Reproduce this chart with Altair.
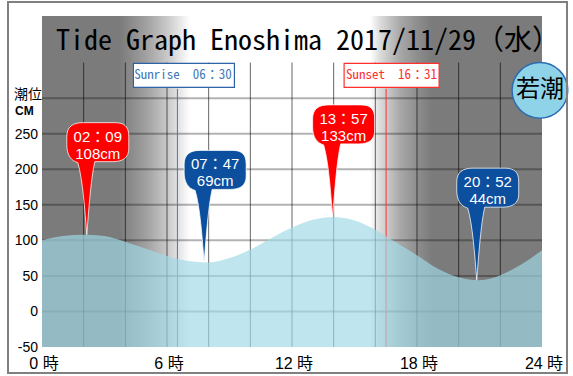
import altair as alt
import pandas as pd

# ---- data ----
hours = list(range(25))
tide_cm = [100, 106, 108, 106, 98, 88, 78, 71, 69, 75, 87, 103, 118, 129, 133, 128, 115, 97, 79, 60, 48, 44, 51, 66, 86]

ext_hours = [2.15, 7.783, 13.95, 20.867]
ext_cm = [108, 69, 133, 44]
ext_time = ["02：09", "07：47", "13：57", "20：52"]
ext_label = ["108cm", "69cm", "133cm", "44cm"]
ext_kind = ["high", "low", "high", "low"]

sun_names = ["Sunrise", "Sunset"]
sun_hours = [6.5, 16.517]
sun_text = ["Sunrise　06：30", "Sunset　16：31"]

grid_levels = [0, 50, 100, 150, 200, 250, 300]
grid_hours = [2, 4, 6, 8, 10, 12, 14, 16, 18, 20, 22]
y_ticks = [-50, 0, 50, 100, 150, 200, 250]
y_tick_text = ["-50", "0", "50", "100", "150", "200", "250"]
x_ticks = [0, 6, 12, 18, 24]
x_tick_text = ["0 時", "6 時", "12 時", "18 時", "24 時"]

tide_name = "若潮"
title_text = "Tide Graph Enoshima 2017/11/29（水）"
y_title = ["潮位", "CM"]

# ---- tables ----
tide_df = pd.DataFrame({"hour": hours, "cm": tide_cm})
ext_df = pd.DataFrame({"hour": ext_hours, "cm": ext_cm, "time": ext_time,
                       "label": ext_label, "kind": ext_kind})
sun_df = pd.DataFrame({"name": sun_names, "hour": sun_hours, "text": sun_text})
hgrid_df = pd.DataFrame({"lv": grid_levels})
vgrid_df = pd.DataFrame({"h": grid_hours})
ytick_df = pd.DataFrame({"v": y_ticks, "t": y_tick_text})
xtick_df = pd.DataFrame({"v": x_ticks, "t": x_tick_text})
one = pd.DataFrame({"a": [0]})

xs = alt.Scale(domain=[0, 24], nice=False, zero=False)
ys = alt.Scale(domain=[-50, 415.5], nice=False, zero=False)

MONO = "Noto Sans Mono CJK JP, DejaVu Sans Mono"
SANS = "Liberation Sans, Noto Sans CJK JP"
GRAY = "#7b7b7b"

grad = alt.Gradient(
    gradient="linear", x1=0, x2=1, y1=0, y2=0,
    stops=[
        alt.GradientStop(color=GRAY, offset=0),
        alt.GradientStop(color=GRAY, offset=0.156),
        alt.GradientStop(color="#a2a2a2", offset=0.21),
        alt.GradientStop(color="#c8c8c8", offset=0.25),
        alt.GradientStop(color="#e6e6e6", offset=0.275),
        alt.GradientStop(color="#ffffff", offset=0.296),
        alt.GradientStop(color="#ffffff", offset=0.656),
        alt.GradientStop(color="#dcdcdc", offset=0.676),
        alt.GradientStop(color="#a8a8a8", offset=0.716),
        alt.GradientStop(color="#8e8e8e", offset=0.75),
        alt.GradientStop(color=GRAY, offset=0.78),
        alt.GradientStop(color=GRAY, offset=1),
    ],
)

bg = alt.Chart(one).mark_rect(fill=grad).encode(
    x=alt.XDatum(0, scale=xs, axis=None), x2=alt.datum(24),
    y=alt.YDatum(-50, scale=ys, axis=None), y2=alt.datum(415.5),
)

hgrid = alt.Chart(hgrid_df).mark_rule(color="#000", opacity=0.3, strokeWidth=2).encode(
    y=alt.Y("lv:Q", scale=ys, axis=None),
    x=alt.XDatum(0, scale=xs, axis=None), x2=alt.datum(24),
)
vgrid = alt.Chart(vgrid_df).mark_rule(color="#000", opacity=0.6, strokeWidth=1).encode(
    x=alt.X("h:Q", scale=xs, axis=None),
    y=alt.YDatum(-50, scale=ys, axis=None), y2=alt.datum(350),
)

ylabels = alt.Chart(ytick_df).mark_text(font=SANS, fontSize=14, align="right",
                                        baseline="middle", color="#000", dy=1).encode(
    y=alt.Y("v:Q", scale=ys, axis=None), x=alt.value(-4), text="t:N",
)
xlabels = alt.Chart(xtick_df).mark_text(font=SANS, fontSize=16, align="center",
                                        baseline="middle", color="#000", dx=2).encode(
    x=alt.X("v:Q", scale=xs, axis=None), y=alt.value(348), text="t:N",
)
ytitle1 = alt.Chart(one).mark_text(text=y_title[0], font="Noto Sans CJK JP", fontSize=14,
                                   align="left", baseline="middle", color="#000").encode(
    x=alt.value(-28), y=alt.value(79),
)
ytitle2 = alt.Chart(one).mark_text(text=y_title[1], font=SANS, fontSize=12, fontWeight="bold",
                                   align="left", baseline="middle", color="#000").encode(
    x=alt.value(-27), y=alt.value(95),
)

sun_color = alt.Scale(domain=sun_names, range=["#3f78b8", "#ff3030"])
sun_rules = alt.Chart(sun_df).mark_rule(strokeWidth=1).encode(
    x=alt.X("hour:Q", scale=xs, axis=None),
    y=alt.YDatum(313, scale=ys, axis=None), y2=alt.datum(-50),
    color=alt.Color("name:N", scale=sun_color, legend=None),
)

area = alt.Chart(tide_df).mark_area(interpolate="monotone", color="#a0d8e6", opacity=0.68).encode(
    x=alt.X("hour:Q", scale=xs, axis=None),
    y=alt.Y("cm:Q", scale=ys, axis=None),
    y2=alt.datum(-50),
)

box_shapes = alt.Scale(domain=sun_names,
                       range=["M-44,-12H57V12H-44Z", "M-42,-12H53V12H-42Z"])
sun_boxes = alt.Chart(sun_df).mark_point(filled=True, fill="white", size=4, strokeWidth=1.2,
                                         opacity=1).encode(
    x=alt.X("hour:Q", scale=xs, axis=None),
    y=alt.YDatum(332, scale=ys, axis=None),
    shape=alt.Shape("name:N", scale=box_shapes, legend=None),
    stroke=alt.Stroke("name:N", scale=alt.Scale(domain=sun_names, range=["#2d62a8", "#ff3030"]),
                      legend=None),
)
sun_labels = alt.Chart(sun_df).mark_text(font=MONO, fontSize=13, dx=5.5).encode(
    x=alt.X("hour:Q", scale=xs, axis=None),
    y=alt.YDatum(332, scale=ys, axis=None),
    text="text:N",
    color=alt.Color("name:N", scale=alt.Scale(domain=sun_names, range=["#1f56a3", "#ee1111"]),
                    legend=None),
)

balloon_path = ("M0,0 C-2,-25 -4,-55 -9,-72 C-16,-74 -20,-80 -20,-90 L-20,-98 "
                "C-20,-108 -14,-112 -4,-112 L28,-112 C38,-112 42,-108 42,-98 "
                "L42,-86 C42,-77 36,-73 26,-73 L8,-73 C4,-55 2,-25 0,0 Z")
kind_color = alt.Scale(domain=["high", "low"], range=["#ff0000", "#0b4f9e"])
balloons = alt.Chart(ext_df).mark_point(shape=balloon_path, size=4, filled=True,
                                        stroke="white", strokeWidth=1, strokeOpacity=0.75,
                                        opacity=1).encode(
    x=alt.X("hour:Q", scale=xs, axis=None),
    y=alt.Y("cm:Q", scale=ys, axis=None),
    fill=alt.Fill("kind:N", scale=kind_color, legend=None),
)
b_time = alt.Chart(ext_df).mark_text(color="white", font=SANS, fontSize=15, dx=11, dy=-98).encode(
    x=alt.X("hour:Q", scale=xs, axis=None),
    y=alt.Y("cm:Q", scale=ys, axis=None),
    text="time:N",
)
b_cm = alt.Chart(ext_df).mark_text(color="white", font=SANS, fontSize=15, dx=11, dy=-81).encode(
    x=alt.X("hour:Q", scale=xs, axis=None),
    y=alt.Y("cm:Q", scale=ys, axis=None),
    text="label:N",
)

badge = alt.Chart(one).mark_point(shape="circle", size=3100, filled=True, fill="#8ed3e8",
                                  stroke="#2b6cb0", strokeWidth=1.5, opacity=1).encode(
    x=alt.XDatum(23.9, scale=xs, axis=None), y=alt.YDatum(311, scale=ys, axis=None),
)
badge_text = alt.Chart(one).mark_text(text=tide_name, font="Noto Sans CJK JP", fontSize=24,
                                      color="#000").encode(
    x=alt.XDatum(23.9, scale=xs, axis=None), y=alt.YDatum(311, scale=ys, axis=None),
)

title = alt.Chart(one).mark_text(text=title_text, font=MONO, fontSize=28, color="#000").encode(
    x=alt.value(266), y=alt.value(26),
)

frame = alt.Chart(one).mark_rect(fillOpacity=0, stroke="#808080", strokeWidth=2).encode(
    x=alt.value(-34), x2=alt.value(525), y=alt.value(-14), y2=alt.value(357),
)

chart = alt.layer(
    bg, hgrid, vgrid, sun_rules, area, sun_boxes, sun_labels,
    balloons, b_time, b_cm, badge, badge_text, title,
    ylabels, xlabels, ytitle1, ytitle2, frame,
).properties(
    width=500, height=331, autosize="none",
    padding={"left": 42, "top": 16, "right": 31, "bottom": 29},
    background="white",
).configure_view(strokeWidth=0)

chart.save("out.html", embed_options={"renderer": "svg", "actions": False})
